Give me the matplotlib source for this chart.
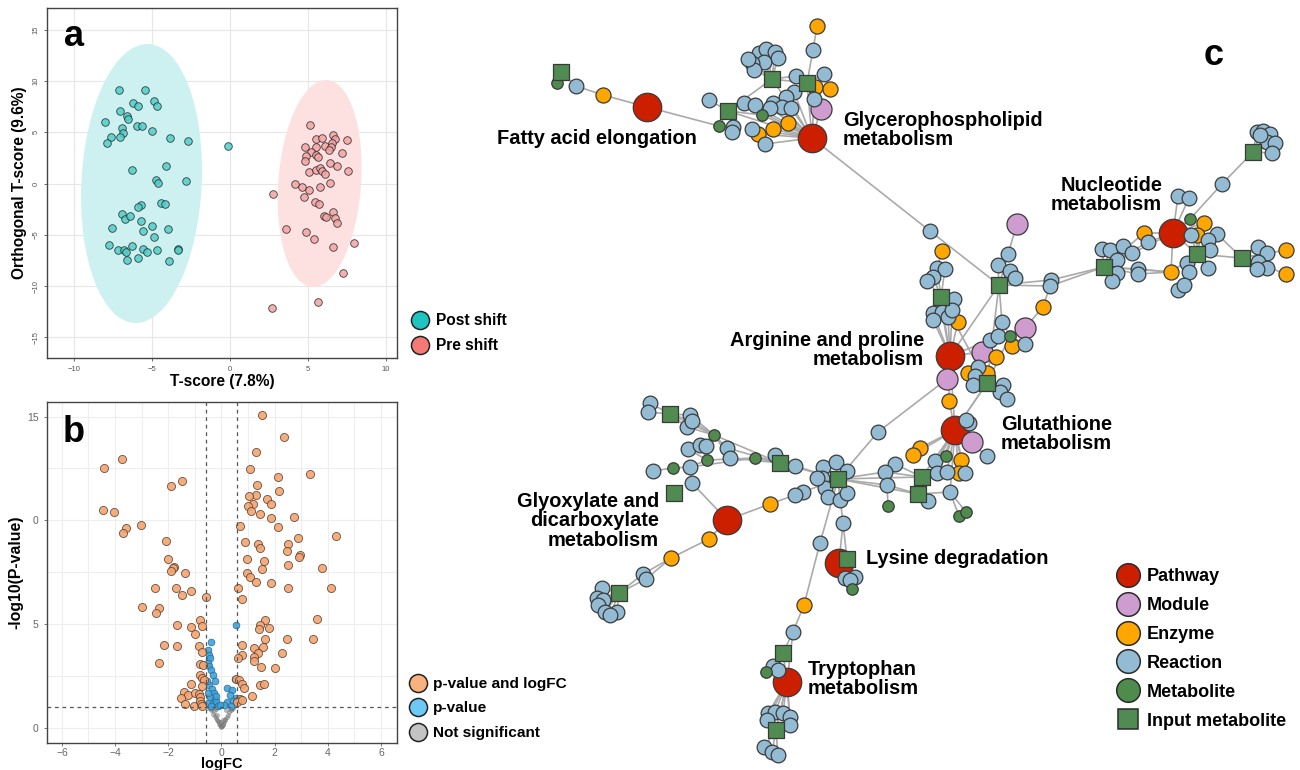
import matplotlib
matplotlib.use("Agg")
import matplotlib.pyplot as plt
from matplotlib.patches import Ellipse
from matplotlib.lines import Line2D

plt.rcParams['font.family'] = ['Liberation Sans', 'DejaVu Sans']

# ---------------- panel a : OPLS-DA scores ----------------
post_x = [-7.1, -5.46, -6.2, -5.9, -4.87, -4.63, -7.04, -6.61, -6.5, -8.0, -6.9, -6.84,
          -7.06, -7.6, -7.85, -5.91, -5.65, -5.01, -3.82, -2.69, -0.13, -6.29, -4.11,
          -4.75, -4.58, -2.82, -5.71, -5.86, -4.41, -4.18, -6.87, -6.74, -6.38, -5.68,
          -7.56, -5.55, -4.95, -3.95, -4.85, -7.75, -7.15, -6.77, -6.62, -6.28, -5.55,
          -5.27, -4.63, -3.33, -3.31, -6.57, -5.85, -3.88]
post_y = [9.1, 9.1, 7.8, 7.6, 8.0, 7.6, 7.1, 6.6, 6.25, 5.95, 5.4, 4.95,
          4.55, 4.5, 3.9, 5.6, 5.65, 5.15, 4.45, 4.15, 3.7, 1.3, 1.7,
          0.35, 0.05, 0.2, -2.1, -2.3, -1.9, -1.95, -2.95, -3.45, -3.15, -3.7,
          -4.35, -4.6, -4.1, -4.45, -5.2, -5.95, -6.5, -6.45, -6.7, -6.05, -6.35,
          -6.7, -6.45, -6.35, -6.5, -7.45, -7.3, -7.55]
pre_x = [5.1, 5.5, 5.87, 6.59, 6.76, 7.47, 4.8, 5.5, 6.12, 6.55, 6.45, 5.2, 6.34, 4.9,
         5.54, 5.62, 7.17, 4.8, 6.4, 6.87, 5.08, 5.49, 5.76, 5.91, 6.1, 7.58, 4.18,
         4.63, 5.08, 5.8, 6.44, 2.77, 4.73, 5.42, 5.7, 6.62, 6.02, 6.17, 6.72, 6.87,
         3.59, 4.9, 5.4, 6.62, 7.96, 7.24, 5.64, 2.69]
pre_y = [5.7, 4.3, 4.4, 4.7, 4.3, 4.2, 3.55, 3.55, 3.65, 3.95, 3.55, 3.1, 3.3, 2.65,
         2.8, 2.6, 3.0, 2.15, 2.0, 1.75, 1.15, 1.35, 1.5, 1.25, 0.95, 1.2, 0.0,
         -0.35, -0.65, -0.3, 0.05, -1.0, -1.35, -1.8, -2.0, -2.75, -3.2, -3.25, -3.4, -3.85,
         -4.4, -4.7, -5.4, -6.2, -5.75, -8.7, -11.5, -12.1]
# confidence ellipses: centre x, centre y, width, height, angle
post_ellipse = (-5.65, 0.0, 7.7, 27.2, -1.7)
pre_ellipse = (5.75, 0.0, 5.3, 20.2, -2.5)
group_labels = ["Post shift", "Pre shift"]

# ---------------- panel b : volcano ----------------
sig_fc = [1.53, 2.35, 1.28, -3.74, -4.43, 1.07, 3.33, 2.11, -1.48, -1.9, 1.32, 2.15, 1.31,
          1.03, 1.71, 1.88, 1.17, 1.0, 1.1, 1.44, -4.44, -4.04, 1.87, 2.74, -3.01, -3.6,
          -3.69, 0.68, 2.12, 4.31, 2.86, 0.88, -2.07, 1.38, 1.43, 2.51, 2.45, 2.95, 2.92,
          -2.01, 0.97, 1.59, 2.52, -1.8, -1.84, -1.91, -1.38, 1.51, 3.77, 0.95, 1.09, 1.28,
          1.85, -2.51, -1.71, -1.15, -1.47, 0.64, 2.5, 4.12, -0.6, 0.78, -2.97, -2.36,
          -2.47, 3.58, -0.8, 1.62, 1.46, 1.78, 1.41, -1.68, -1.15, -0.72, -0.98, 1.62,
          2.48, 3.43, -2.17, -1.66, -0.83, 0.78, 1.23, 1.57, 2.28, 1.37, 0.77, 0.61, 1.24,
          1.24, -0.72, -2.35, -0.82, -0.68, 1.49, 2.02, -0.82, -0.74, -0.67, 0.54, 0.67,
          0.78, -1.13, -0.74, 1.44, 1.59, 0.85, -1.42, -1.24, -1.53, -0.98, -0.83, -0.8,
          1.13, 0.69, 0.6, 0.79, -1.36, -1.03, -0.8, -0.77, -0.72]
sig_p = [15.06, 14.02, 13.3, 12.94, 12.52, 12.46, 12.23, 12.07, 11.88, 11.67, 11.69, 11.4,
         11.22, 11.16, 11.05, 10.77, 10.8, 10.69, 10.47, 10.32, 10.5, 10.39, 10.11, 10.14,
         9.79, 9.63, 9.41, 9.71, 9.66, 9.26, 9.15, 8.94, 9.0, 8.87, 8.65, 8.87, 8.54, 8.34,
         8.22, 8.15, 8.15, 8.04, 7.85, 7.77, 7.69, 7.54, 7.49, 7.64, 7.7, 7.46, 7.25, 7.04,
         6.99, 6.72, 6.74, 6.58, 6.4, 6.72, 6.72, 6.72, 6.3, 6.22, 5.84, 5.79, 5.55, 5.26,
         5.21, 5.18, 4.97, 4.81, 4.76, 4.98, 4.87, 4.89, 4.55, 4.28, 4.28, 4.28, 4.02,
         3.94, 3.97, 4.02, 3.84, 3.89, 3.63, 3.59, 3.52, 3.38, 3.42, 3.22, 3.67, 3.14,
         3.09, 3.02, 2.96, 2.91, 2.57, 2.41, 2.33, 2.38, 2.33, 2.14, 2.11, 2.01, 2.07,
         2.11, 1.91, 1.72, 1.59, 1.46, 1.7, 1.62, 1.48, 1.53, 1.4, 1.25, 1.33, 1.14,
         1.05, 1.32, 1.16, 1.05]
pval_fc = [-0.4, 0.53, -0.51, -0.46, -0.44, -0.51, -0.46, -0.4, -0.31, -0.25, -0.46, -0.36,
           -0.29, -0.44, -0.25, -0.5, -0.31, -0.19, -0.39, -0.13, 0.51, 0.2, 0.39, 0.31,
           0.54, 0.19, 0.1, 0.44, 0.34, -0.54, -0.5, -0.21, -0.06]
pval_p = [4.15, 4.94, 3.75, 3.54, 3.38, 3.13, 2.97, 2.78, 2.57, 2.28, 2.09, 1.88,
          1.69, 1.5, 1.41, 1.2, 1.17, 1.29, 1.08, 1.08, 2.38, 1.93, 1.85, 1.58,
          1.45, 1.25, 1.09, 1.29, 1.08, 2.25, 1.69, 1.53, 1.13]
ns_fc = [-0.45, -0.4, -0.35, -0.3, -0.28, -0.25, -0.2, -0.18, -0.15, -0.12, -0.1, -0.08,
         -0.05, -0.03, 0.0, 0.02, 0.04, 0.06, 0.09, 0.12, 0.15, 0.2, 0.25, 0.3, 0.35,
         0.4, 0.45, -0.5, -0.22, 0.18, -0.02, 0.05]
ns_p = [0.95, 0.85, 0.9, 0.7, 0.8, 0.6, 0.5, 0.65, 0.4, 0.35, 0.28, 0.2,
        0.15, 0.1, 0.06, 0.1, 0.14, 0.2, 0.3, 0.38, 0.45, 0.55, 0.65, 0.75, 0.85,
        0.92, 0.98, 0.98, 0.9, 0.85, 0.3, 0.4]
fc_cut = 0.58
p_cut = 1.0
volcano_labels = ["p-value and logFC", "p-value", "Not significant"]
volcano_yticks = [0, 5, 10, 15]
volcano_yticklabels = ["0", "5", "0", "15"]

# ---------------- panel c : network ----------------
# key, x, y, kind, linked keys  (P pathway, M module, E enzyme, R reaction, C metabolite, I input)
lipid_nodes = [
    ("fa", 647, 107, "P", ""), ("gp", 812, 138, "P", ""),
    ("i1", 561, 72, "I", ""), ("", 557, 83, "C", "i1"), ("r1", 576, 86, "R", "i1"),
    ("e1", 603, 95, "E", "r1 fa"), ("c1", 719, 126, "C", "fa i2"),
    ("i2", 728, 111, "I", "gp"), ("", 709, 100, "R", "i2"), ("", 744, 103, "R", "i2 gp"),
    ("", 755, 105, "R", "gp"), ("", 762, 115, "C", "i2 gp"), ("", 733, 127, "R", "i2"),
    ("", 732, 132, "R", "i2"), ("", 752, 129, "R", "gp"), ("", 758, 134, "E", "gp"),
    ("", 773, 129, "E", "gp"), ("", 788, 123, "E", "gp"), ("", 765, 144, "R", "gp"),
    ("i3", 772, 79, "I", "gp i2 i4"), ("", 759, 53, "R", "i3"), ("", 766, 49, "R", "i3"),
    ("", 775, 52, "R", "i3"), ("", 778, 58, "R", "i3"), ("", 764, 62, "R", "i3"),
    ("", 752, 63, "R", "i3"), ("", 754, 70, "R", "i3"), ("", 748, 59, "R", "i3"),
    ("", 796, 76, "R", "i3 i4"), ("", 794, 92, "R", "gp"), ("", 786, 97, "R", "gp"),
    ("", 773, 103, "R", "gp"), ("", 782, 107, "R", "gp"), ("", 791, 108, "R", "gp"),
    ("", 770, 108, "R", "gp"), ("i4", 807, 83, "I", "gp"), ("", 824, 74, "R", "i4"),
    ("", 815, 87, "E", "i4"), ("", 830, 89, "E", "i4"), ("", 814, 99, "R", "gp"),
    ("", 821, 109, "M", "gp"), ("r2", 813, 50, "R", "i4"), ("", 817, 26, "E", "r2"),
]
arginine_nodes = [
    ("ap", 950, 356, "P", "i6"), ("gt", 955, 430, "P", "ap i11"),
    ("r3", 930, 231, "R", "gp i6"), ("", 942, 251, "E", "r4"), ("r4", 937, 268, "R", "i5"),
    ("", 945, 269, "R", "i5"), ("", 933, 277, "R", "i5"), ("", 927, 281, "R", "i5"),
    ("i5", 941, 297, "I", "ap"), ("", 954, 299, "R", "i5"), ("", 933, 313, "R", "i5 ap"),
    ("", 942, 312, "R", "i5 ap"), ("", 948, 317, "R", "ap"), ("", 952, 310, "R", "ap"),
    ("", 933, 320, "R", "ap"), ("", 958, 322, "E", "ap"), ("m1", 947, 379, "M", "ap"),
    ("", 949, 401, "E", "ap gt"), ("", 972, 442, "M", "gt"), ("", 969, 423, "R", "gt"),
    ("", 966, 420, "R", "gt"),
    ("i6", 999, 285, "I", "r5 r6 i11"), ("", 1017, 224, "M", "r7"), ("r7", 1008, 254, "R", "i6"),
    ("", 998, 265, "R", "i6"), ("", 1010, 271, "R", "i6"), ("", 1015, 278, "R", "i6"),
    ("r5", 1051, 280, "R", "i7"), ("r6", 1050, 286, "R", "i7"), ("e2", 1043, 307, "E", "r6 m2"),
    ("m2", 1025, 328, "M", "c2"), ("r8", 1002, 322, "R", "i6 c2"), ("c2", 1010, 336, "C", "i11"),
    ("", 990, 340, "R", "c2 ap"), ("", 998, 336, "R", "c2"), ("", 1025, 344, "R", "c2"),
    ("", 1012, 346, "E", "c2"), ("m3", 982, 352, "M", "ap"), ("", 996, 357, "E", "m3"),
    ("i11", 987, 383, "I", "gt i5"), ("", 968, 373, "E", "i11"), ("", 987, 373, "E", "i11"),
    ("", 978, 367, "R", "i11"), ("", 975, 376, "R", "i11"), ("", 973, 385, "R", "i11"),
    ("", 1003, 385, "R", "i11"), ("", 1000, 392, "R", "i11"), ("", 1007, 399, "R", "i11"),
]
nucleotide_nodes = [
    ("nu", 1173, 233, "P", "i8"),
    ("i7", 1104, 267, "I", "nu e3"), ("", 1102, 249, "R", "i7"), ("", 1110, 250, "R", "i7"),
    ("", 1123, 246, "R", "i7"), ("", 1132, 253, "R", "i7"), ("", 1117, 260, "R", "i7"),
    ("", 1117, 273, "R", "i7"), ("", 1112, 281, "R", "i7"), ("", 1138, 269, "R", "i7 e3"),
    ("", 1138, 274, "R", "i7 e3"), ("", 1144, 233, "E", "nu i7"), ("", 1148, 242, "R", "nu i7"),
    ("", 1178, 196, "R", "nu"), ("", 1189, 198, "R", "nu"), ("c3", 1190, 219, "C", "nu r9"),
    ("r9", 1222, 184, "R", "i10"), ("i10", 1253, 152, "I", ""),
    ("", 1257, 132, "R", "i10"), ("", 1263, 131, "R", "i10"), ("", 1270, 134, "R", "i10"),
    ("", 1267, 142, "R", "i10"), ("", 1275, 143, "R", "i10"), ("", 1272, 153, "R", "i10"),
    ("", 1260, 135, "R", "i10"),
    ("", 1204, 223, "E", "nu i8"), ("", 1197, 235, "E", "nu i8"), ("", 1191, 235, "R", "i8"),
    ("r10", 1217, 234, "R", "i8 i9"), ("", 1208, 240, "R", "i8"), ("", 1210, 250, "R", "i8"),
    ("i8", 1197, 254, "I", "i9"), ("e3", 1171, 272, "E", "nu i8"), ("", 1187, 263, "R", "i8"),
    ("", 1189, 272, "R", "i8"), ("", 1208, 268, "R", "i8"), ("", 1178, 290, "R", "i8"),
    ("", 1184, 285, "R", "i8"), ("i9", 1242, 258, "I", ""),
    ("", 1258, 247, "R", "i9"), ("", 1267, 253, "R", "i9"), ("", 1258, 262, "R", "i9"),
    ("", 1267, 268, "R", "i9"), ("", 1257, 269, "R", "i9"),
    ("", 1286, 250, "E", "i9"), ("", 1286, 274, "E", "i9"),
]
glutathione_nodes = [
    ("", 920, 448, "E", "gt"), ("", 913, 455, "E", "gt"), ("", 935, 461, "R", "gt"),
    ("", 937, 473, "R", "gt"), ("", 947, 472, "R", "gt"), ("", 946, 456, "C", "gt"),
    ("", 961, 460, "E", "gt"), ("", 959, 473, "E", "gt"), ("", 965, 473, "R", "gt"),
    ("", 987, 456, "R", "gt"), ("i18", 922, 477, "I", "gt i16"), ("i19", 918, 494, "I", "gt i16"),
    ("", 895, 464, "R", "i18"), ("", 885, 472, "R", "i18 i16"), ("r11", 887, 485, "R", "i19 i16"),
    ("", 888, 506, "C", "r11"), ("", 928, 501, "R", "i19"), ("r12", 950, 492, "R", "i19 gt"),
    ("", 959, 516, "C", "r12"), ("", 966, 512, "C", "r12"), ("r13", 878, 432, "R", "m1 i16"),
]
hub_nodes = [
    ("i16", 838, 479, "I", "i13"),
    ("", 823, 467, "R", "i16"), ("", 836, 462, "R", "i16"), ("", 847, 471, "R", "i16"),
    ("", 822, 478, "R", "i16"), ("", 825, 488, "R", "i16"), ("", 828, 497, "R", "i16"),
    ("", 840, 500, "R", "i16"), ("", 847, 493, "R", "i16"), ("", 817, 478, "R", "i16"),
    ("r14", 803, 492, "R", "i16"), ("r15", 795, 495, "R", "r14"), ("e4", 770, 504, "E", "r15 gx"),
    ("r16", 795, 466, "R", "i16 i13"), ("r17", 843, 523, "R", "i16 i17 ly"),
    ("r18", 820, 543, "R", "i16 e5"), ("e5", 804, 605, "E", "r19"), ("r19", 793, 632, "R", "i20 tr"),
]
glyoxylate_nodes = [
    ("gx", 727, 520, "P", "e6"),
    ("i13", 780, 463, "I", "c4 c5"), ("", 775, 455, "R", "i13"), ("c5", 755, 458, "C", "r20"),
    ("c4", 714, 435, "C", "i12"), ("", 727, 448, "R", "c4 i13"), ("", 730, 458, "R", "c4 i13"),
    ("i12", 670, 414, "I", ""), ("", 650, 403, "R", "i12"), ("", 648, 412, "R", "i12"),
    ("", 690, 415, "R", "i12 c4"), ("", 687, 427, "R", "i12 c4"), ("", 692, 421, "R", "i12 c4"),
    ("c6", 707, 460, "C", "c5"), ("", 688, 449, "R", "c6"), ("", 700, 445, "R", "c6"),
    ("", 706, 446, "R", "c6"), ("r20", 690, 467, "R", "c6 c7"), ("c7", 673, 468, "C", ""),
    ("", 653, 471, "R", "c7"), ("r21", 692, 483, "R", "r20 gx"), ("", 674, 493, "I", ""),
    ("e6", 709, 539, "E", "e7"), ("e7", 671, 558, "E", "r22 r23"),
    ("r22", 643, 574, "R", "i15"), ("r23", 646, 579, "R", "i15"), ("i15", 619, 593, "I", ""),
    ("", 602, 588, "R", "i15"), ("", 597, 598, "R", "i15"), ("", 603, 600, "R", "i15"),
    ("", 598, 605, "R", "i15"), ("", 605, 612, "R", "i15"), ("", 617, 612, "R", "i15"),
    ("", 610, 615, "R", "i15"),
]
lysine_tryptophan_nodes = [
    ("ly", 839, 563, "P", "i17"), ("i17", 847, 559, "I", ""),
    ("", 845, 578, "R", "ly"), ("", 855, 577, "R", "ly"), ("", 850, 580, "R", "ly"),
    ("", 852, 589, "C", "ly"),
    ("tr", 787, 682, "P", "i21"), ("i20", 783, 653, "I", "tr"), ("r24", 773, 666, "R", "i20"),
    ("", 778, 670, "R", "i20"), ("", 766, 672, "C", "r24"),
    ("", 768, 713, "R", "tr"), ("", 775, 712, "R", "tr"), ("", 783, 713, "R", "tr"),
    ("", 790, 717, "R", "tr"), ("", 767, 720, "R", "tr"), ("", 790, 725, "R", "tr"),
    ("i21", 776, 730, "I", "tr"), ("", 764, 747, "R", "i21"), ("", 772, 752, "R", "i21"),
    ("", 778, 755, "R", "i21"),
]
pathway_names = ["Fatty acid elongation", "Glycerophospholipid\nmetabolism",
                 "Nucleotide\nmetabolism", "Arginine and proline\nmetabolism",
                 "Glutathione\nmetabolism", "Glyoxylate and\ndicarboxylate\nmetabolism",
                 "Lysine degradation", "Tryptophan\nmetabolism"]
kind_names = ["Pathway", "Module", "Enzyme", "Reaction", "Metabolite", "Input metabolite"]

# ---------------- styles ----------------
post_col, pre_col = "#4ecfc9", "#f3a3a3"
post_leg, pre_leg = "#1fc3c0", "#f47a76"
kind_order = ["P", "M", "E", "R", "C", "I"]
kind_style = {
    "P": ("o", 420, "#cc1f00"),
    "M": ("o", 230, "#cf9ccf"),
    "E": ("o", 118, "#ffa600"),
    "R": ("o", 112, "#93bbd3"),
    "C": ("o", 68, "#4f8b4d"),
    "I": ("s", 125, "#508b52"),
}

fig = plt.figure(figsize=(13, 7.7), dpi=100)
W, H = 1300.0, 770.0


def frame(ax):
    for sp in ax.spines.values():
        sp.set_color("#444444")
        sp.set_linewidth(1.0)


# panel a
ax_a = fig.add_axes([47 / W, 1 - 358 / H, 350 / W, 350 / H])
for (cx, cy, w, h, ang), col in zip([post_ellipse, pre_ellipse], ["#cdf1f1", "#fde0e0"]):
    ax_a.add_patch(Ellipse((cx, cy), w, h, angle=ang, facecolor=col, edgecolor="none", zorder=1))
ax_a.scatter(post_x, post_y, s=30, c=post_col, edgecolors="#222222", linewidths=0.6, alpha=0.85, zorder=3)
ax_a.scatter(pre_x, pre_y, s=30, c=pre_col, edgecolors="#222222", linewidths=0.6, alpha=0.85, zorder=3)
ax_a.set_xlim(-11.7, 10.7)
ax_a.set_ylim(-17.0, 17.1)
ax_a.set_xticks([-10, -5, 0, 5, 10])
ax_a.set_yticks([-15, -10, -5, 0, 5, 10, 15])
ax_a.grid(True, color="#e6e6e6", lw=0.8, zorder=0)
ax_a.set_axisbelow(True)
ax_a.tick_params(labelsize=5.5, colors="#555555", length=2, width=0.6)
plt.setp(ax_a.get_yticklabels(), rotation=90, va="center")
ax_a.set_xlabel("T-score (7.8%)", fontsize=11.2, fontweight="bold", labelpad=1)
ax_a.set_ylabel("Orthogonal T-score (9.6%)", fontsize=11.2, fontweight="bold", labelpad=4)
frame(ax_a)

# panel b
ax_b = fig.add_axes([47 / W, 1 - 743 / H, 350 / W, 341 / H])
ax_b.scatter(ns_fc, ns_p, s=9, c="#8c8c8c", edgecolors="#555555", linewidths=0.3, alpha=0.6, zorder=3)
ax_b.scatter(pval_fc, pval_p, s=24, c="#3ba3df", edgecolors="#2a5f80", linewidths=0.5, alpha=0.9, zorder=4)
ax_b.scatter(sig_fc, sig_p, s=34, c="#f4a470", edgecolors="#5a4030", linewidths=0.6, alpha=0.9, zorder=5)
for v in (-fc_cut, fc_cut):
    ax_b.axvline(v, color="#555555", lw=0.9, ls=(0, (3, 3)), zorder=6)
ax_b.axhline(p_cut, color="#555555", lw=0.9, ls=(0, (3, 3)), zorder=6)
ax_b.set_xlim(-6.56, 6.6)
ax_b.set_ylim(-0.72, 15.7)
ax_b.set_xticks([-6, -4, -2, 0, 2, 4, 6])
ax_b.set_xticks([-5, -3, -1, 1, 3, 5], minor=True)
ax_b.set_yticks(volcano_yticks)
ax_b.set_yticklabels(volcano_yticklabels)
ax_b.set_yticks([2.5, 7.5, 12.5], minor=True)
ax_b.grid(True, which="both", color="#eeeeee", lw=0.8, zorder=0)
ax_b.set_axisbelow(True)
ax_b.tick_params(labelsize=7.5, colors="#666666", length=2.5, width=0.6)
ax_b.tick_params(axis="x", pad=0.8)
ax_b.tick_params(which="minor", length=0)
ax_b.set_xlabel("logFC", fontsize=10.5, fontweight="bold", labelpad=-0.5)
ax_b.set_ylabel("-log10(P-value)", fontsize=11.4, fontweight="bold", labelpad=3)
frame(ax_b)

# panel c (pixel space overlay)
ax_c = fig.add_axes([0, 0, 1, 1])
ax_c.set_xlim(0, W)
ax_c.set_ylim(H, 0)
ax_c.set_axis_off()

all_nodes = (lipid_nodes + arginine_nodes + nucleotide_nodes + glutathione_nodes
             + hub_nodes + glyoxylate_nodes + lysine_tryptophan_nodes)
pos = {k: (x, y) for k, x, y, _, _ in all_nodes if k}
for k, x, y, kind, links in all_nodes:
    for tgt in links.split():
        tx, ty = pos[tgt]
        ax_c.plot([x, tx], [y, ty], color="#aaaaaa", lw=1.2, zorder=1, solid_capstyle="round")

for kind in kind_order:
    xs = [n[1] for n in all_nodes if n[3] == kind]
    ys = [n[2] for n in all_nodes if n[3] == kind]
    m, s, col = kind_style[kind]
    ax_c.scatter(xs, ys, s=s, marker=m, c=col, edgecolors="#3a3a3a", linewidths=0.9, zorder=2)

label_anchor = [(697, 139, "right"), (843, 130, "left"), (1162, 195, "right"),
                (924, 350, "right"), (1001, 434, "left"), (659, 521, "right"),
                (866, 558, "left"), (808, 679, "left")]
for txt, (x, y, ha) in zip(pathway_names, label_anchor):
    ax_c.text(x, y, txt, ha=ha, va="center", fontsize=14.4, fontweight="bold",
              linespacing=1.05, multialignment=ha, zorder=5)

for letter, (x, y) in zip("abc", [(64, 46), (63, 442), (1204, 65)]):
    ax_c.text(x, y, letter, fontsize=26, fontweight="bold", ha="left", va="baseline")

# legends
ha_handles = [Line2D([], [], marker="o", ls="", ms=13, mfc=c, mec="#222222", mew=1.1)
              for c in (post_leg, pre_leg)]
leg_a = ax_c.legend(ha_handles, group_labels, loc="upper left", bbox_to_anchor=(413, 313),
                    bbox_transform=ax_c.transData, frameon=False, prop=dict(size=11.2, weight="bold"),
                    handlelength=0.9, handletextpad=0.55, labelspacing=0.65, borderpad=0, borderaxespad=0)
ax_c.add_artist(leg_a)

hb_handles = [Line2D([], [], marker="o", ls="", ms=13, mfc=c, mec="#222222", mew=1.1)
              for c in ("#f8b27e", "#6cc8f5", "#c3c3c3")]
leg_b = ax_c.legend(hb_handles, volcano_labels, loc="upper left", bbox_to_anchor=(411, 677),
                    bbox_transform=ax_c.transData, frameon=False, prop=dict(size=11.1, weight="bold"),
                    handlelength=0.9, handletextpad=0.55, labelspacing=0.68, borderpad=0, borderaxespad=0)
ax_c.add_artist(leg_b)

hc_handles = []
for kind in kind_order:
    m, s, col = kind_style[kind]
    hc_handles.append(Line2D([], [], marker=m, ls="", ms=17 if m == "o" else 14.5,
                             mfc=col, mec="#2a2a2a", mew=1.1))
ax_c.legend(hc_handles, kind_names, loc="upper left", bbox_to_anchor=(1119, 568),
            bbox_transform=ax_c.transData, frameon=False, prop=dict(size=13, weight="bold"),
            handlelength=1.0, handletextpad=0.55, labelspacing=0.66, borderpad=0, borderaxespad=0)

fig.savefig("out.png", dpi=100)
